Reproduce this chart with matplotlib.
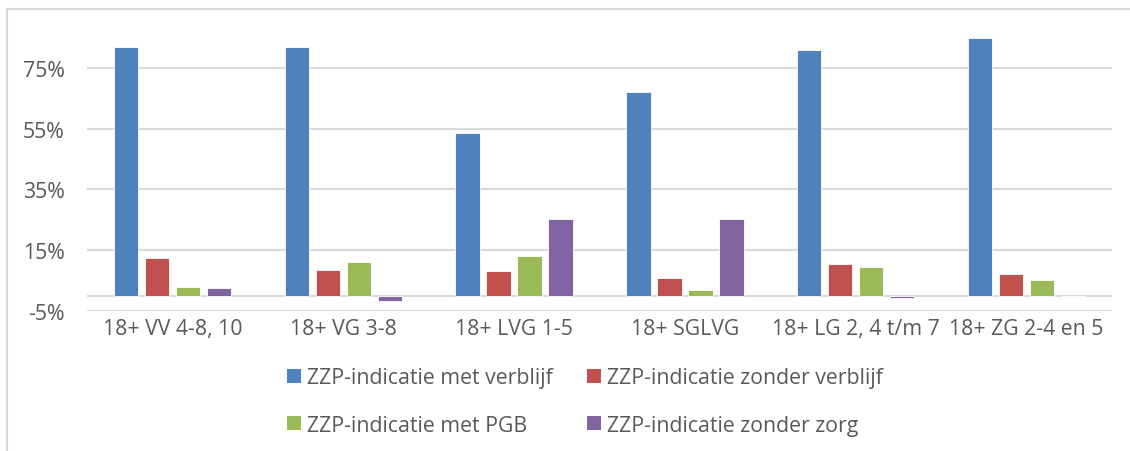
import matplotlib
matplotlib.use("Agg")
import matplotlib.pyplot as plt
import numpy as np
from matplotlib.lines import Line2D
from matplotlib.patches import Patch

plt.rcParams['font.family'] = ['Open Sans', 'DejaVu Sans']

categories = ["18+ VV 4-8, 10", "18+ VG 3-8", "18+ LVG 1-5", "18+ SGLVG",
              "18+ LG 2, 4 t/m 7", "18+ ZG 2-4 en 5"]
series_names = ["ZZP-indicatie met verblijf", "ZZP-indicatie zonder verblijf",
                "ZZP-indicatie met PGB", "ZZP-indicatie zonder zorg"]
met_verblijf = [82.1, 81.9, 53.7, 67.3, 80.9, 85.1]
zonder_verblijf = [12.5, 8.5, 8.0, 5.7, 10.4, 7.0]
met_pgb = [2.8, 11.1, 13.0, 1.8, 9.5, 5.2]
zonder_zorg = [2.6, -1.7, 25.2, 25.2, -0.9, 0.0]
yticks = [-5, 15, 35, 55, 75]
ytick_labels = ["-5%", "15%", "35%", "55%", "75%"]

colors = ["#4F81BD", "#C0504D", "#9BBB59", "#8064A2"]
text_color = "#595959"
grid_color = "#D9D9D9"
fs = 15.3

W, H = 1130, 452
fig = plt.figure(figsize=(W / 100, H / 100), dpi=100)
ax = fig.add_axes([87 / W, 1 - 311.7 / H, (1112 - 87) / W, (311.7 - 8.7) / H])

x = np.arange(len(categories))
bw = 0.143
step = 0.1815
all_series = [met_verblijf, zonder_verblijf, met_pgb, zonder_zorg]
for i, (vals, c) in enumerate(zip(all_series, colors)):
    ax.bar(x + (i - 1.5) * step, vals, width=bw, color=c, edgecolor="white",
           linewidth=0.6, zorder=3)

ax.set_xlim(-0.5, len(categories) - 0.5)
ax.set_ylim(-5, 95)
ax.set_yticks(yticks)
ax.set_yticklabels(ytick_labels)
for yv in yticks:
    ax.axhline(yv, color=grid_color, linewidth=1.5, zorder=1)
ax.axhline(0, color=grid_color, linewidth=1.5, zorder=2)
ax.set_xticks(x)
ax.set_xticklabels(categories)
ax.tick_params(axis='both', length=0, labelsize=fs, colors=text_color)
ax.tick_params(axis='y', pad=16)
ax.tick_params(axis='x', pad=5)
for s in ax.spines.values():
    s.set_visible(False)

# chart border (top and left)
fig.add_artist(Line2D([6.5 / W, 1], [1 - 10 / H, 1 - 10 / H], color=grid_color,
                      linewidth=1.5, transform=fig.transFigure))
fig.add_artist(Line2D([6.5 / W, 6.5 / W], [0, 1 - 10 / H], color=grid_color,
                      linewidth=1.5, transform=fig.transFigure))

handles = [Patch(facecolor=c, edgecolor='none') for c in colors]
order = [0, 2, 1, 3]
leg = fig.legend([handles[i] for i in order], [series_names[i] for i in order],
                 ncol=2, loc='center', bbox_to_anchor=(585 / W, 1 - 402.5 / H),
                 frameon=False, fontsize=fs, handlelength=0.65, handleheight=0.65,
                 handletextpad=0.3, columnspacing=1.6, labelspacing=1.25,
                 borderpad=0)
for t in leg.get_texts():
    t.set_color(text_color)

fig.savefig("out.png", dpi=100, facecolor="white")
